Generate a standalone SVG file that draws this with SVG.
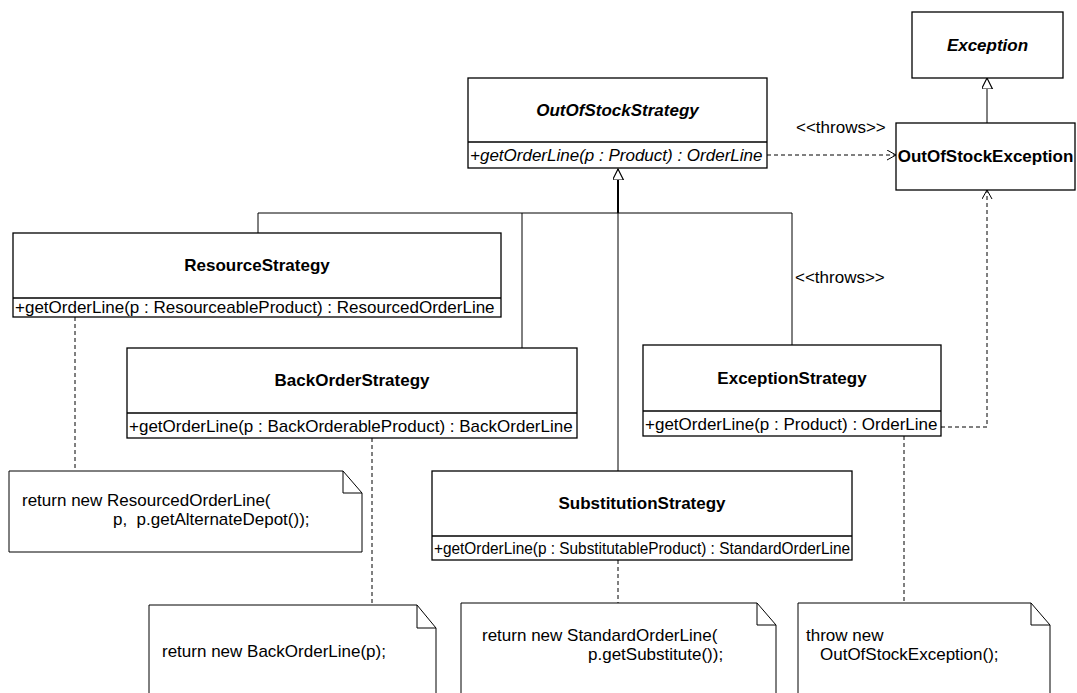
<svg xmlns="http://www.w3.org/2000/svg" width="1077" height="693" viewBox="0 0 1077 693">
<style>
text{font-family:"Liberation Sans",Arial,sans-serif;font-size:17px;fill:#000}
.nm{font-weight:bold;text-anchor:middle}
.it{font-style:italic}
.box{fill:#fff;stroke:#000;stroke-width:1.3}
.ln{fill:none;stroke:#000;stroke-width:1}
.dash{fill:none;stroke:#000;stroke-width:1;stroke-dasharray:4,3}
.note{fill:#fff;stroke:#000;stroke-width:1}
</style>
<defs>
<marker id="open" markerWidth="12" markerHeight="12" refX="9" refY="5" orient="auto" markerUnits="userSpaceOnUse">
<path d="M0,0 L9,5 L0,10" fill="none" stroke="#000" stroke-width="1"/>
</marker>
<marker id="gen" markerWidth="14" markerHeight="14" refX="11" refY="5.5" orient="auto" markerUnits="userSpaceOnUse">
<path d="M0,0 L11,5.5 L0,11 Z" fill="#fff" stroke="#000" stroke-width="1.2"/>
</marker>
</defs>

<g id="connectors">
<!-- generalization to OutOfStockStrategy -->
<path class="ln" d="M258,233 V213 H792 V345"/>
<path class="ln" d="M522,348 V213"/>
<path class="ln" d="M618,471 V213"/>
<path class="ln" d="M618,213 V169" style="stroke-width:2" marker-end="url(#gen)"/>
<!-- generalization to Exception -->
<path class="ln" d="M987,123 V78" marker-end="url(#gen)"/>
<!-- throws dependencies -->
<path class="dash" d="M767,155 H896" marker-end="url(#open)"/>
<text x="796" y="133">&lt;&lt;throws&gt;&gt;</text>
<path class="dash" d="M941,427 H987 V190" marker-end="url(#open)"/>
<text x="795" y="283">&lt;&lt;throws&gt;&gt;</text>
<!-- note anchors -->
<path class="dash" d="M75,317 V471"/>
<path class="dash" d="M372,438 V605"/>
<path class="dash" d="M618,560 V603"/>
<path class="dash" d="M904,436 V603"/>
</g>

<g id="Exception">
<rect class="box" x="912" y="12" width="151" height="66"/>
<text class="nm it" x="987.5" y="51">Exception</text>
</g>

<g id="OutOfStockStrategy">
<rect class="box" x="468" y="78" width="299" height="90"/>
<line class="ln" x1="468" y1="142" x2="767" y2="142" style="stroke-width:1.3"/>
<text class="nm it" x="617.5" y="116">OutOfStockStrategy</text>
<text class="it" x="470" y="161">+getOrderLine(p : Product) : OrderLine</text>
</g>

<g id="OutOfStockException">
<rect class="box" x="896" y="123" width="179" height="67"/>
<text class="nm" x="985.5" y="162">OutOfStockException</text>
</g>

<g id="ResourceStrategy">
<rect class="box" x="13" y="233" width="488" height="84"/>
<line class="ln" x1="13" y1="298" x2="501" y2="298" style="stroke-width:1.3"/>
<text class="nm" x="257" y="271">ResourceStrategy</text>
<text x="15" y="313">+getOrderLine(p : ResourceableProduct) : ResourcedOrderLine</text>
</g>

<g id="BackOrderStrategy">
<rect class="box" x="127" y="348" width="450" height="90"/>
<line class="ln" x1="127" y1="413" x2="577" y2="413" style="stroke-width:1.3"/>
<text class="nm" x="352" y="386">BackOrderStrategy</text>
<text x="129" y="432">+getOrderLine(p : BackOrderableProduct) : BackOrderLine</text>
</g>

<g id="ExceptionStrategy">
<rect class="box" x="643" y="345" width="298" height="91"/>
<line class="ln" x1="643" y1="411" x2="941" y2="411" style="stroke-width:1.3"/>
<text class="nm" x="792" y="384">ExceptionStrategy</text>
<text x="645" y="430">+getOrderLine(p : Product) : OrderLine</text>
</g>

<g id="SubstitutionStrategy">
<rect class="box" x="432" y="471" width="420" height="89"/>
<line class="ln" x1="432" y1="536" x2="852" y2="536" style="stroke-width:1.3"/>
<text class="nm" x="642" y="509">SubstitutionStrategy</text>
<text x="434" y="554" textLength="416" lengthAdjust="spacingAndGlyphs">+getOrderLine(p : SubstitutableProduct) : StandardOrderLine</text>
</g>

<g id="note-resource">
<path class="note" d="M9,471 H343 L362,493 V552 H9 Z"/>
<path class="ln" d="M343,471 V493 H362"/>
<text x="22" y="506">return new ResourcedOrderLine(</text>
<text x="113" y="525" xml:space="preserve">p,  p.getAlternateDepot());</text>
</g>

<g id="note-backorder">
<path class="note" d="M149,700 V605 H417 L436,628 V700"/>
<path class="ln" d="M417,605 V628 H436"/>
<text x="162" y="657">return new BackOrderLine(p);</text>
</g>

<g id="note-substitution">
<path class="note" d="M461,700 V603 H757 L776,625 V700"/>
<path class="ln" d="M757,603 V625 H776"/>
<text x="482" y="641">return new StandardOrderLine(</text>
<text x="588" y="660">p.getSubstitute());</text>
</g>

<g id="note-exception">
<path class="note" d="M798,700 V603 H1031 L1050,625 V700"/>
<path class="ln" d="M1031,603 V625 H1050"/>
<text x="806" y="641">throw new</text>
<text x="820" y="660">OutOfStockException();</text>
</g>
</svg>
